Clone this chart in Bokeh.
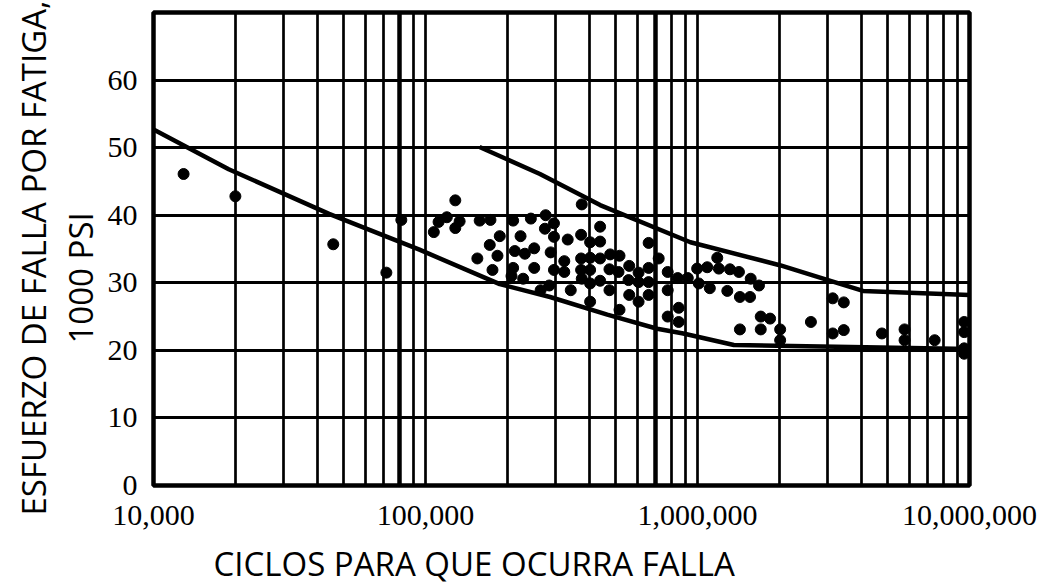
from bokeh.plotting import figure
from bokeh.models import FixedTicker, Grid, NumeralTickFormatter, Title
from bokeh.embed import file_html
from bokeh.resources import INLINE

# ---- data ----
cycles = [12900, 20000, 45800, 71800, 81500,
          128700, 111700, 107300, 119800, 133500, 128700, 158200, 173300, 210000, 244000,
          276500, 296700, 375400, 187500, 223600, 274800, 296700, 333300, 373300, 402900,
          172300, 213000, 231900, 251000, 288500, 183900, 155100, 323800, 373300, 402900,
          176300, 210000, 251000, 296700, 323800, 373300, 402900, 207100, 228600, 375400,
          402900, 285100, 265000, 342000, 402900,
          438500, 438500, 438500, 477500, 516800, 561000, 474600, 512400, 607300, 661300,
          720000, 661300, 438500, 557800, 607300, 661300, 777100, 845900, 921000, 997000,
          1086000, 1182000, 1198000, 1316000, 1420000, 1569000, 1683000, 1011000, 1110000,
          1287000, 1432000, 1560000, 474600, 561000, 607300, 661300, 777100, 516800, 777100,
          853000, 853000, 1708000, 1849000, 1432000, 1708000, 2013000, 2013000,
          2612000, 3141000, 3450000, 3141000, 3450000, 4763000, 5771000, 5771000, 7447000,
          9560000, 9560000, 9560000, 9560000]
stress = [46.1, 42.8, 35.7, 31.5, 39.3,
          42.2, 39.0, 37.5, 39.7, 39.1, 38.1, 39.2, 39.3, 39.2, 39.5,
          40.0, 38.8, 41.6, 36.9, 36.9, 38.0, 36.8, 36.4, 37.1, 36.0,
          35.6, 34.7, 34.3, 35.1, 34.5, 34.0, 33.6, 33.2, 33.6, 33.7,
          31.9, 32.2, 32.2, 31.9, 31.6, 31.9, 31.9, 31.0, 30.6, 30.6,
          29.9, 29.6, 28.9, 28.9, 27.2,
          38.3, 36.1, 33.6, 34.2, 34.0, 32.5, 32.0, 31.6, 31.5, 35.9,
          33.6, 32.2, 30.3, 30.4, 30.1, 30.1, 31.6, 30.7, 30.7, 32.1,
          32.3, 33.7, 32.1, 32.0, 31.6, 30.6, 29.6, 29.9, 29.2,
          28.8, 27.9, 27.9, 28.9, 28.2, 27.2, 28.2, 28.9, 26.0, 25.0,
          26.3, 24.2, 25.0, 24.7, 23.1, 23.1, 23.1, 21.5,
          24.2, 27.7, 27.1, 22.5, 23.0, 22.5, 23.1, 21.5, 21.5,
          24.2, 22.7, 20.3, 19.5]

lower_cycles = [1e4, 1.89e4, 4.42e4, 9.5e4, 1.875e5, 2.87e5, 4.66e5, 7.11e5, 8.87e5, 1.36e6, 1e7]
lower_stress = [52.7, 46.8, 40.2, 34.9, 29.8, 27.9, 25.3, 23.2, 22.5, 20.8, 20.2]

upper_cycles = [1.58e5, 2.635e5, 4.385e5, 9.42e5, 2.007e6, 3.02e6, 4.06e6, 1e7]
upper_stress = [50.1, 46.1, 41.5, 36.0, 32.6, 30.4, 28.8, 28.2]

x_ticks = [1e4, 1e5, 1e6, 1e7]
y_ticks = [0, 10, 20, 30, 40, 50, 60]
y_grid = [10, 20, 30, 40, 50, 60]
x_grid = [m * 10 ** d for d in (4, 5, 6) for m in range(2, 11) if m * 10 ** d < 1e7]
x_grid_heavy = [8e4, 7e5]

x_title = "CICLOS PARA QUE OCURRA FALLA"
y_title_lines = ["ESFUERZO DE FALLA POR FATIGA,", "1000 PSI"]

p = figure(x_axis_type="log", x_range=(1e4, 1e7), y_range=(0, 70),
           frame_width=816, frame_height=473,
           min_border_left=153, min_border_top=12, min_border_right=94, min_border_bottom=99,
           output_backend="svg", toolbar_location=None)
p.background_fill_color = "white"
p.border_fill_color = "white"
p.outline_line_color = "black"
p.outline_line_width = 4.5

# grids
p.xgrid.ticker = FixedTicker(ticks=x_grid)
p.xgrid.grid_line_color = "black"
p.xgrid.grid_line_width = 2.7
p.xgrid.grid_line_alpha = 1.0
p.ygrid.ticker = FixedTicker(ticks=y_grid)
p.ygrid.grid_line_color = "black"
p.ygrid.grid_line_width = 3
p.ygrid.grid_line_alpha = 1.0
heavy = Grid(dimension=0, ticker=FixedTicker(ticks=x_grid_heavy),
             grid_line_color="black", grid_line_width=4.5)
p.add_layout(heavy)

for ax in (p.xaxis[0], p.yaxis[0]):
    ax.axis_line_color = None
    ax.major_tick_line_color = None
    ax.minor_tick_line_color = None
    ax.major_tick_out = 0
    ax.major_tick_in = 0
    ax.minor_tick_out = 0
    ax.major_label_text_font = "Liberation Serif"
    ax.major_label_text_font_size = "30px"
    ax.major_label_text_color = "black"

p.xaxis.ticker = FixedTicker(ticks=x_ticks)
p.xaxis.formatter = NumeralTickFormatter(format="0,0")
p.xaxis.major_label_standoff = 20
p.yaxis.ticker = FixedTicker(ticks=y_ticks)
p.yaxis.major_label_standoff = 16

# axis titles
p.add_layout(Title(text=x_title, align="left", offset=60, standoff=22,
                   text_font="Open Sans", text_font_size="33px",
                   text_font_style="normal", text_color="black"), "below")
p.add_layout(Title(text=y_title_lines[1], align="left", offset=142, standoff=0,
                   vertical_align="top",
                   text_font="Open Sans", text_font_size="33px", text_line_height=1.0,
                   text_font_style="normal", text_color="black"), "left")
p.add_layout(Title(text=y_title_lines[0], align="left", offset=-30, standoff=2,
                   vertical_align="middle",
                   text_font="Open Sans", text_font_size="33px", text_line_height=1.0,
                   text_font_style="normal", text_color="black"), "left")

# data
p.line(lower_cycles, lower_stress, line_width=4.5, line_color="black")
p.line(upper_cycles, upper_stress, line_width=4.5, line_color="black")
p.scatter(cycles, stress, size=11, fill_color="black", line_color="black")

open("out.html", "w").write(file_html(p, INLINE))
